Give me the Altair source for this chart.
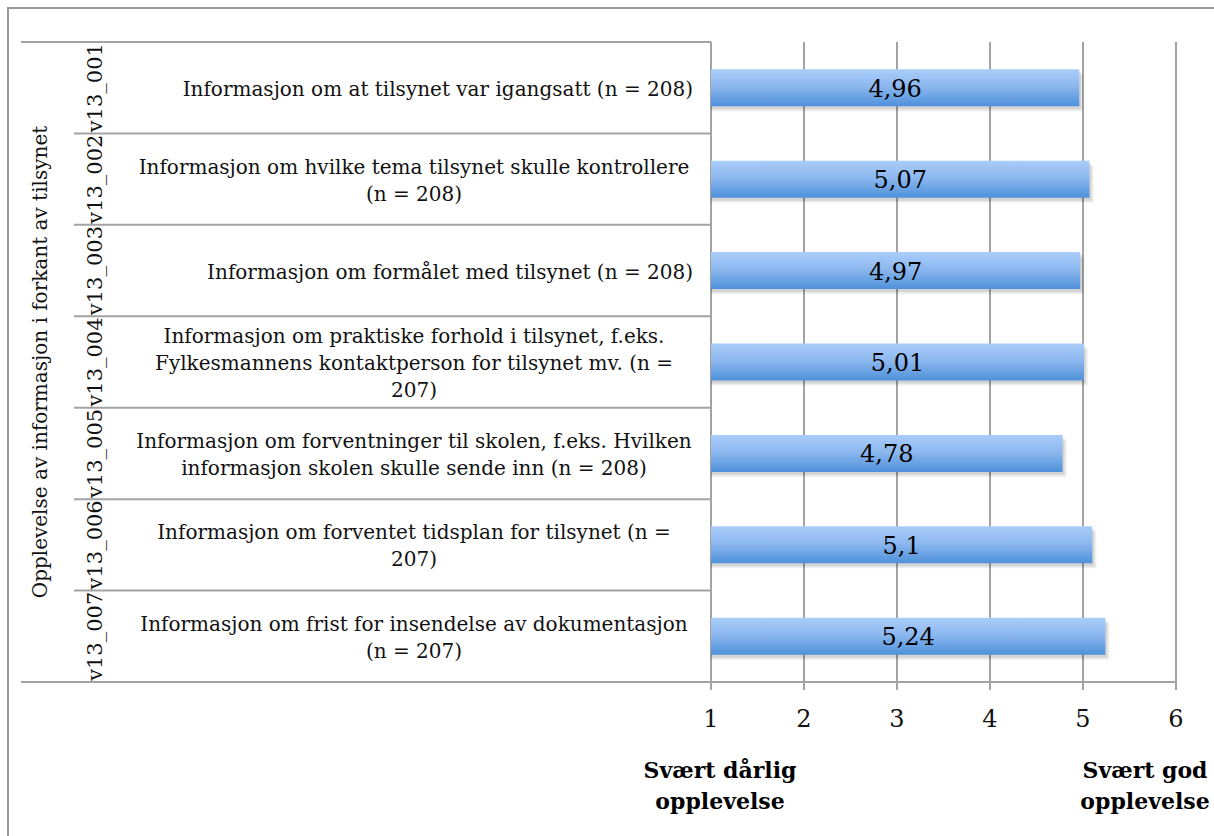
import altair as alt
import pandas as pd

# Survey items: variable code, item text and mean score (scale 1-6)
codes = ["v13_001", "v13_002", "v13_003", "v13_004", "v13_005", "v13_006", "v13_007"]
items = [
    "Informasjon om at tilsynet var igangsatt (n = 208)",
    "Informasjon om hvilke tema tilsynet skulle kontrollere\n(n = 208)",
    "Informasjon om formålet med tilsynet (n = 208)",
    "Informasjon om praktiske forhold i tilsynet, f.eks.\nFylkesmannens kontaktperson for tilsynet mv. (n =\n207)",
    "Informasjon om forventninger til skolen, f.eks. Hvilken\ninformasjon skolen skulle sende inn (n = 208)",
    "Informasjon om forventet tidsplan for tilsynet (n =\n207)",
    "Informasjon om frist for insendelse av dokumentasjon\n(n = 207)",
]
means = [4.96, 5.07, 4.97, 5.01, 4.78, 5.1, 5.24]
ticks = [1, 2, 3, 4, 5, 6]
group_label = "Opplevelse av informasjon i forkant av tilsynet"
low_label = "Svært dårlig\nopplevelse"
high_label = "Svært god\nopplevelse"

df = pd.DataFrame({"code": codes, "item": items, "value": means})
df["start"] = ticks[0]
tick_df = pd.DataFrame({"tick": ticks})
span_df = pd.DataFrame({"lo": [ticks[0]], "hi": [ticks[-1]]})
one = pd.DataFrame({"k": [0]})

SERIF = "DejaVu Serif"
GRID = "#a3a3a3"
LINE_H = 27

x_scale = alt.Scale(domain=[1, 6], range=[711, 1176], nice=False, zero=False)
y_scale = alt.Scale(domain=codes, range=[42, 682], paddingInner=0, paddingOuter=0)


def ycode(pos=None):
    if pos is None:
        return alt.Y("code:N", scale=y_scale, axis=None)
    return alt.Y("code:N", scale=y_scale, axis=None, bandPosition=pos)


# frame lines along the top and left edge
frame_top = alt.Chart(one).mark_rule(color="#9a9a9a", strokeWidth=2).encode(
    x=alt.value(7), x2=alt.value(1214), y=alt.value(8)
)
frame_left = alt.Chart(one).mark_rule(color="#9a9a9a", strokeWidth=2).encode(
    x=alt.value(8), y=alt.value(7), y2=alt.value(836)
)

# table lines between the rows
inner_lines = alt.Chart(df.iloc[1:]).mark_rule(color=GRID, strokeWidth=2).encode(
    y=ycode(0), x=alt.value(74), x2=alt.value(711)
)
top_line = alt.Chart(df.iloc[:1]).mark_rule(color=GRID, strokeWidth=2).encode(
    y=ycode(0), x=alt.value(21), x2=alt.value(711)
)
bottom_line = alt.Chart(df.iloc[-1:]).mark_rule(color=GRID, strokeWidth=2).encode(
    y=ycode(1), x=alt.value(21), x2=alt.value(711)
)

# vertical gridlines with tick marks below the baseline
grid = alt.Chart(tick_df).mark_rule(color=GRID, strokeWidth=2).encode(
    x=alt.X("tick:Q", scale=x_scale, axis=None),
    y=alt.value(42),
    y2=alt.value(690),
)
baseline = alt.Chart(span_df).mark_rule(color=GRID, strokeWidth=2).encode(
    x=alt.X("lo:Q", scale=x_scale, axis=None),
    x2="hi:Q",
    y=alt.value(682),
)

tick_labels = alt.Chart(tick_df).mark_text(
    font=SERIF, fontSize=24, color="#111", align="center", baseline="alphabetic"
).encode(
    x=alt.X("tick:Q", scale=x_scale, axis=None),
    y=alt.value(727),
    text=alt.Text("tick:Q", format="d"),
)

# bars with a soft drop shadow and a vertical blue gradient
bar_enc = dict(
    x=alt.X("value:Q", scale=x_scale, axis=None),
    x2="start:Q",
    y=ycode(),
)
shadow1 = alt.Chart(df).mark_bar(
    size=37, color="#000", opacity=0.07, xOffset=4, yOffset=5
).encode(**bar_enc)
shadow2 = alt.Chart(df).mark_bar(
    size=37, color="#000", opacity=0.1, xOffset=2, yOffset=3
).encode(**bar_enc)
bar_fill = {
    "gradient": "linear",
    "x1": 0, "x2": 0, "y1": 0, "y2": 1,
    "stops": [
        {"offset": 0, "color": "#aacdfa"},
        {"offset": 0.45, "color": "#8db8ef"},
        {"offset": 1, "color": "#4e91db"},
    ],
}
bars = alt.Chart(df).mark_bar(size=37, color=bar_fill).encode(**bar_enc)

value_labels = alt.Chart(df).transform_calculate(
    mid="(datum.value + 1) / 2",
    label="replace(toString(datum.value), '.', ',')",
).mark_text(font=SERIF, fontSize=24, color="#000", baseline="middle", dy=2).encode(
    x=alt.X("mid:Q", scale=x_scale, axis=None),
    y=ycode(),
    text="label:N",
)

# item texts: single lines flush right, wrapped ones centred line by line,
# each block shifted up so that it sits centred in its row
items_base = alt.Chart(df).transform_calculate(
    nlines="length(split(datum.item, '\\n'))"
)
single_items = items_base.transform_filter("datum.nlines == 1").mark_text(
    font=SERIF, fontSize=20, color="#111", align="right", baseline="middle", dy=2
).encode(x=alt.value(693), y=ycode(), text="item:N")


def wrapped(n):
    return items_base.transform_filter(f"datum.nlines == {n}").mark_text(
        font=SERIF, fontSize=20, color="#111", align="center", baseline="middle",
        lineBreak="\n", lineHeight=LINE_H, dy=2 - (n - 1) * LINE_H / 2,
    ).encode(x=alt.value(414), y=ycode(), text="item:N")


code_labels = alt.Chart(df).mark_text(
    font=SERIF, fontSize=21, color="#111", angle=270, align="center", baseline="middle"
).encode(x=alt.value(96), y=ycode(), text="code:N")

group_text = alt.Chart(one).mark_text(
    font=SERIF, fontSize=20, color="#111", angle=270, align="center", baseline="middle"
).encode(x=alt.value(41), y=alt.value(362), text=alt.value(group_label))

low_text = alt.Chart(one).mark_text(
    font=SERIF, fontSize=22, fontWeight="bold", color="#000", align="center",
    baseline="alphabetic", lineBreak="\n", lineHeight=31,
).encode(x=alt.value(720), y=alt.value(778), text=alt.value(low_label))

high_text = alt.Chart(one).mark_text(
    font=SERIF, fontSize=22, fontWeight="bold", color="#000", align="center",
    baseline="alphabetic", lineBreak="\n", lineHeight=31,
).encode(x=alt.value(1145), y=alt.value(778), text=alt.value(high_label))

chart = alt.layer(
    frame_top, frame_left,
    inner_lines, top_line, bottom_line,
    grid, baseline,
    shadow1, shadow2, bars,
    value_labels, tick_labels,
    single_items, wrapped(2), wrapped(3), code_labels, group_text,
    low_text, high_text,
).properties(
    width=1214,
    height=836,
    autosize=alt.AutoSizeParams(type="none"),
    padding=0,
    background="white",
).configure_view(stroke=None)

chart.save("out.html", embed_options={"renderer": "svg", "actions": False})
